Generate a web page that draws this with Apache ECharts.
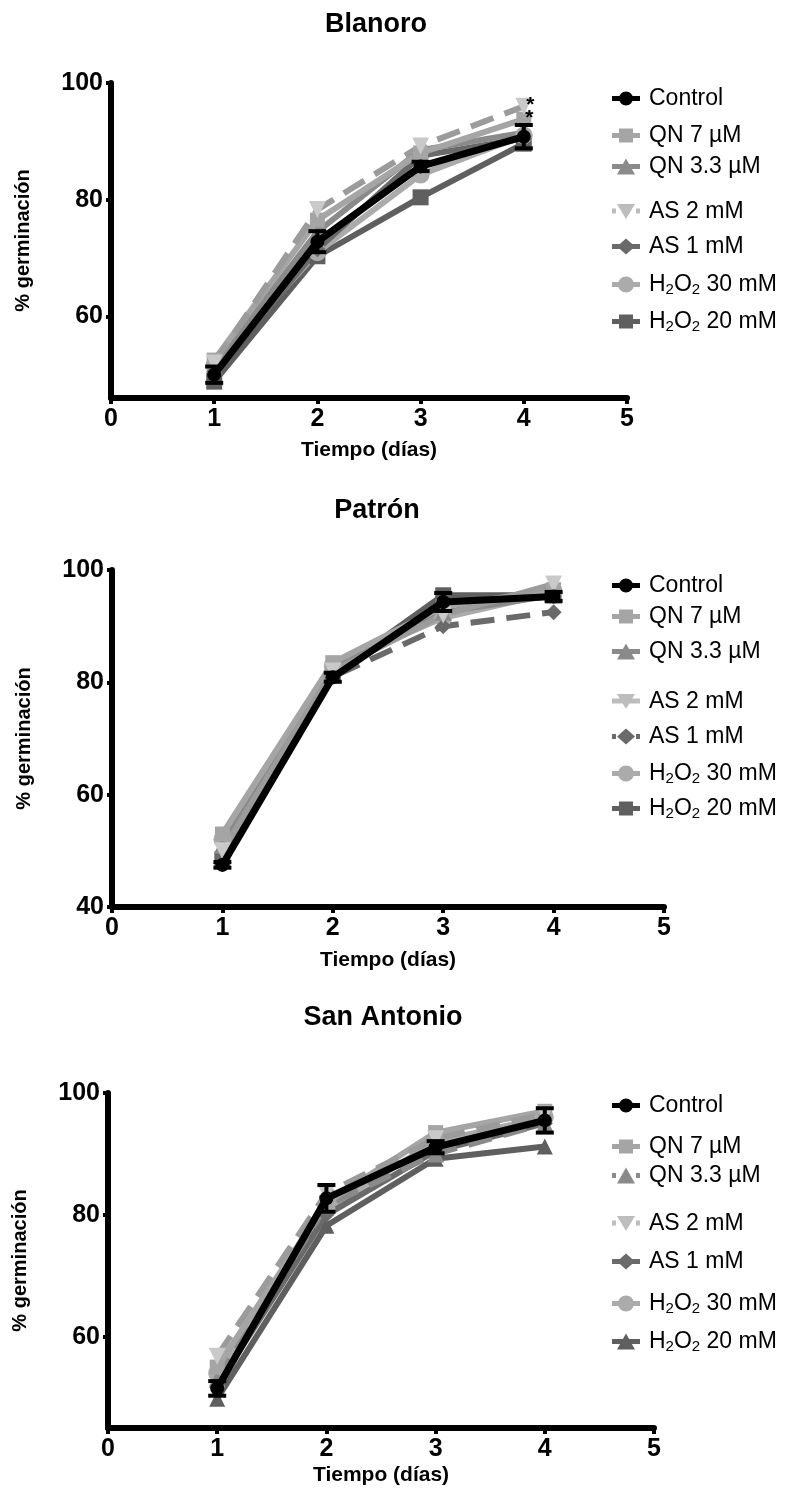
<!DOCTYPE html>
<html>
<head>
<meta charset="utf-8">
<script src="https://cdn.jsdelivr.net/npm/echarts@6/dist/echarts.min.js"></script>
<style>
html,body{margin:0;padding:0;background:#fff;}
#chart{width:788px;height:1491px;}
</style>
</head>
<body>
<div id="chart"></div>
<script>
// ---------- DATA ----------
const panelTitles = ['Blanoro', 'Patrón', 'San Antonio'];
const seriesNames = ['Control', 'QN 7 µM', 'QN 3.3 µM', 'AS 2 mM', 'AS 1 mM', 'H2O2 30 mM', 'H2O2 20 mM'];
const days = [1, 2, 3, 4];
const xTicks = [0, 1, 2, 3, 4, 5];
const yTicksBlanoro = [60, 80, 100];
const yTicksPatron = [40, 60, 80, 100];
const yTicksSanAntonio = [60, 80, 100];

// values per series (order of seriesNames), % germinación at days 1..4
const blanoroValues = [
  [50.0, 72.8, 85.7, 90.8],
  [52.5, 76.5, 88.0, 93.8],
  [51.5, 74.5, 88.5, 91.5],
  [52.0, 78.3, 89.2, 96.0],
  [50.5, 71.5, 87.5, 90.5],
  [51.5, 71.0, 84.3, 91.0],
  [48.8, 70.3, 80.4, 89.6]
];
const blanoroControlErr = [1.4, 1.8, 0.8, 2.0];

const patronValues = [
  [47.5, 80.9, 94.3, 95.3],
  [53.0, 83.5, 93.5, 96.5],
  [51.0, 82.5, 92.5, 95.5],
  [50.0, 82.0, 92.0, 97.5],
  [49.0, 81.0, 90.0, 92.5],
  [52.0, 83.0, 91.5, 96.0],
  [48.5, 81.5, 95.5, 95.5]
];
const patronControlErr = [0.5, 0.8, 1.6, 0.8];

const sanAntonioValues = [
  [51.5, 82.7, 91.1, 95.5],
  [55.0, 82.0, 93.5, 97.0],
  [53.0, 81.5, 90.0, 95.0],
  [56.8, 83.5, 92.5, 96.5],
  [52.0, 80.0, 90.5, 95.0],
  [54.0, 81.0, 92.0, 96.0],
  [49.8, 78.2, 89.2, 91.2]
];
const sanAntonioControlErr = [1.2, 2.2, 1.0, 2.0];

// significance marks: [panel, series index, day index]
const asterisks = [[0, 3, 3], [0, 1, 3]];

// ---------- STYLE / LAYOUT ----------
const FONT = 'Liberation Sans, Arial, sans-serif';
const colors = ['#000000', '#a5a5a5', '#8a8a8a', '#c9c9c9', '#6a6a6a', '#ababab', '#5f5f5f'];
const lineColors = ['#000000', '#a5a5a5', '#8a8a8a', '#9b9b9b', '#6a6a6a', '#ababab', '#5f5f5f'];
const TRI_DOWN = 'path://M0,0L10,0L5,9Z';
const symbolsByPanel = [
  ['circle', 'rect', 'triangle', TRI_DOWN, 'diamond', 'circle', 'rect'],
  ['circle', 'rect', 'triangle', TRI_DOWN, 'diamond', 'circle', 'rect'],
  ['circle', 'rect', 'triangle', TRI_DOWN, 'diamond', 'circle', 'triangle']
];
// legend icons: a short thick line with the marker in the middle (28 x 16 box)
const BAR = 'M0,5.5H28V10.5H0Z';
const BAR_DASHED = 'M0,5.5H4V10.5H0Z M24,5.5H28V10.5H24Z';
const iconShapes = {
  circle: 'M7,8A7,7 0 1,1 21,8A7,7 0 1,1 7,8Z',
  bigcircle: 'M6,8A8,8 0 1,1 22,8A8,8 0 1,1 6,8Z',
  rect: 'M7,1H21V15H7Z',
  triangle: 'M5,16L14,0L23,16Z',
  tridown: 'M5,1L23,1L14,16Z',
  diamond: 'M14,0L23,8L14,16L5,8Z'
};
const legendShapesByPanel = [
  ['circle', 'rect', 'triangle', 'tridown', 'diamond', 'bigcircle', 'rect'],
  ['circle', 'rect', 'triangle', 'tridown', 'diamond', 'bigcircle', 'rect'],
  ['circle', 'rect', 'triangle', 'tridown', 'diamond', 'bigcircle', 'triangle']
];
const symbolSizes = [14, 15, 17, 17, 16, 18, 16];
const lineTypesByPanel = [
  ['solid', 'solid', 'solid', 'dashed', 'solid', 'solid', 'solid'],
  ['solid', 'solid', 'solid', 'solid', 'dashed', 'solid', 'solid'],
  ['solid', 'solid', 'dashed', 'dashed', 'solid', 'solid', 'solid']
];
const grids = [
  {left: 111, top: 83, width: 516, height: 315},
  {left: 112, top: 570, width: 552, height: 337},
  {left: 108, top: 1093, width: 546, height: 335}
];
const yMins = [46, 40, 45];
const yTickSets = [yTicksBlanoro, yTicksPatron, yTicksSanAntonio];
const xNameGaps = [42, 43, 37];
const titlePos = [[371, 6], [372, 492], [378, 999]];
const legendRows = [
  [100, 137, 168, 213, 248, 286, 323],
  [587, 618, 653, 703, 738, 775, 810],
  [1107, 1148, 1177, 1225, 1263, 1305, 1343]
];
const panelValues = [blanoroValues, patronValues, sanAntonioValues];
const panelErr = [blanoroControlErr, patronControlErr, sanAntonioControlErr];

const chart = echarts.init(document.getElementById('chart'), null, {renderer: 'canvas'});

const option = {
  backgroundColor: '#fff',
  animation: false,
  title: [],
  grid: [],
  xAxis: [],
  yAxis: [],
  legend: [],
  series: []
};

function fmtName(name) {
  return name.replace(/H2O2/, 'H{sub|2}O{sub|2}');
}

for (let p = 0; p < 3; p++) {
  option.title.push({
    text: panelTitles[p],
    left: titlePos[p][0], top: titlePos[p][1], textAlign: 'center',
    textStyle: {fontFamily: FONT, fontSize: 27, fontWeight: 'bold', color: '#000'}
  });
  option.grid.push(Object.assign({containLabel: false}, grids[p]));
  option.xAxis.push({
    gridIndex: p, type: 'value', min: 0, max: 5, interval: 1,
    name: 'Tiempo (días)', nameLocation: 'middle', nameGap: xNameGaps[p],
    nameTextStyle: {fontFamily: FONT, fontSize: 21, fontWeight: 'bold', color: '#000'},
    axisLine: {show: true, lineStyle: {color: '#000', width: 6, cap: 'round'}},
    axisTick: {show: true, length: 6, lineStyle: {color: '#000', width: 4}},
    axisLabel: {fontFamily: FONT, fontSize: 25, fontWeight: 'bold', color: '#000', margin: 9},
    splitLine: {show: false}
  });
  option.yAxis.push({
    gridIndex: p, type: 'value', min: yMins[p], max: 100,
    name: '% germinación', nameLocation: 'middle', nameGap: 78, nameRotate: 90,
    nameTextStyle: {fontFamily: FONT, fontSize: 20, fontWeight: 'bold', color: '#000'},
    axisLine: {show: true, lineStyle: {color: '#000', width: 6, cap: 'round'}},
    axisTick: {show: true, length: 5, lineStyle: {color: '#000', width: 4}, customValues: yTickSets[p]},
    axisLabel: {fontFamily: FONT, fontSize: 25, fontWeight: 'bold', color: '#000', margin: 8, customValues: yTickSets[p]},
    splitLine: {show: false}
  });

  // gray series first, Control last (on top)
  const order = [6, 5, 4, 2, 1, 3, 0];
  order.forEach(function (k) {
    const data = days.map(function (d, i) {
      const item = {value: [d, panelValues[p][k][i]]};
      asterisks.forEach(function (a) {
        if (a[0] === p && a[1] === k && a[2] === i) {
          item.label = {show: true, formatter: '*', position: 'right', offset: [-11, -1],
            fontFamily: FONT, fontSize: 21, fontWeight: 'bold', color: '#000'};
        }
      });
      return item;
    });
    option.series.push({
      name: seriesNames[k], type: 'line', xAxisIndex: p, yAxisIndex: p,
      data: data,
      symbol: symbolsByPanel[p][k], symbolSize: symbolSizes[k],
      itemStyle: {color: colors[k]},
      lineStyle: {color: lineColors[k], width: k === 0 ? 7 : 6, type: lineTypesByPanel[p][k]},
      z: k === 0 ? 5 : 3
    });
  });
  // error bars for Control
  option.series.push({
    name: 'Control', type: 'custom', xAxisIndex: p, yAxisIndex: p, z: 6,
    data: days.map(function (d, i) {
      const v = panelValues[p][0][i], e = panelErr[p][i];
      return [d, v - e, v + e];
    }),
    renderItem: function (params, api) {
      const lo = api.coord([api.value(0), api.value(1)]);
      const hi = api.coord([api.value(0), api.value(2)]);
      const hw = 9;
      const st = {stroke: '#000', lineWidth: 4};
      return {type: 'group', children: [
        {type: 'line', shape: {x1: lo[0], y1: lo[1], x2: hi[0], y2: hi[1]}, style: st},
        {type: 'line', shape: {x1: lo[0] - hw, y1: lo[1], x2: lo[0] + hw, y2: lo[1]}, style: st},
        {type: 'line', shape: {x1: hi[0] - hw, y1: hi[1], x2: hi[0] + hw, y2: hi[1]}, style: st}
      ]};
    }
  });

  for (let k = 0; k < seriesNames.length; k++) {
    const bar = lineTypesByPanel[p][k] === 'dashed' ? BAR_DASHED : BAR;
    option.legend.push({
      data: [{
        name: seriesNames[k],
        icon: 'path://' + bar + ' ' + iconShapes[legendShapesByPanel[p][k]],
        itemStyle: {color: k === 3 ? '#bdbdbd' : colors[k], borderWidth: 0}
      }],
      left: 612, top: legendRows[p][k] - 13,
      padding: 0, itemWidth: 28, itemHeight: 16, itemGap: 0,
      selectedMode: false,
      formatter: fmtName,
      textStyle: {
        fontFamily: FONT, fontSize: 23, color: '#000', padding: [0, 0, 0, 4],
        rich: {sub: {fontFamily: FONT, fontSize: 15, color: '#000', padding: [10, 0, 0, 0]}}
      }
    });
  }
}

chart.setOption(option);
</script>
</body>
</html>
